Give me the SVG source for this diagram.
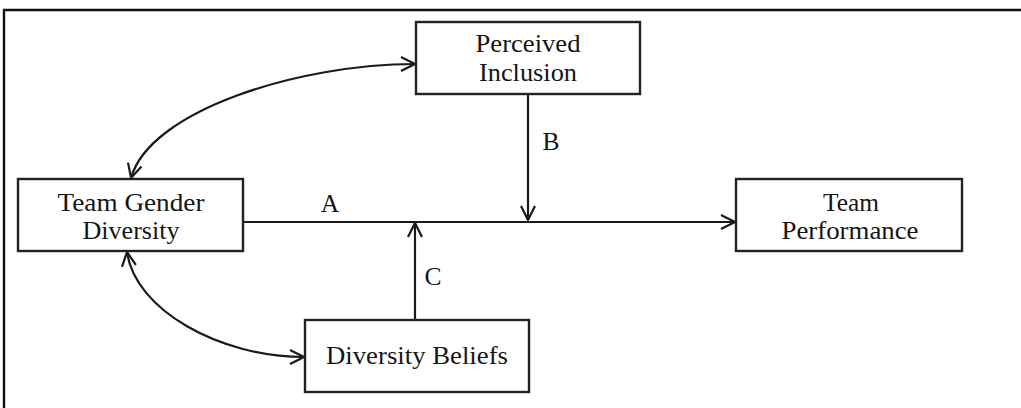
<svg xmlns="http://www.w3.org/2000/svg" width="1021" height="408" viewBox="0 0 1021 408">
  <style>
    .box { fill: #ffffff; stroke: #222222; stroke-width: 2.4; }
    .lbl { font-family: "Liberation Serif", "Times New Roman", serif; font-size: 25.5px; fill: #151515; text-anchor: middle; }
    .edge { fill: none; stroke: #1a1a1a; stroke-width: 2.2; }
    .frame { fill: none; stroke: #111111; stroke-width: 2.4; }
  </style>
  <defs>
    <marker id="vee" viewBox="0 0 16 16" refX="15" refY="8" markerWidth="16" markerHeight="16" markerUnits="userSpaceOnUse" orient="auto-start-reverse">
      <path d="M1,1 L15,8 L1,15" fill="none" stroke="#1a1a1a" stroke-width="2.2"/>
    </marker>
  </defs>

  <rect width="1021" height="408" fill="#ffffff"/>
  <!-- outer frame (top and left edges) -->
  <path class="frame" d="M4,408 L4,10 L1021,10"/>

  <!-- connectors -->
  <g id="connectors">
    <!-- A: Team Gender Diversity to Team Performance -->
    <path class="edge" d="M243,222 L735,222" marker-end="url(#vee)"/>
    <!-- B: Perceived Inclusion moderating the main path -->
    <path class="edge" d="M528,94 L528,220" marker-end="url(#vee)"/>
    <!-- C: Diversity Beliefs moderating the main path -->
    <path class="edge" d="M415,320 L415,223" marker-end="url(#vee)"/>
    <!-- correlation: Team Gender Diversity and Perceived Inclusion -->
    <path class="edge" d="M131,178 C150,110 300,64 415,64" marker-start="url(#vee)" marker-end="url(#vee)"/>
    <!-- correlation: Team Gender Diversity and Diversity Beliefs -->
    <path class="edge" d="M127,252 C135,310 220,357 304,357" marker-start="url(#vee)" marker-end="url(#vee)"/>
    <text class="lbl" x="330" y="212">A</text>
    <text class="lbl" x="551" y="150">B</text>
    <text class="lbl" x="433" y="285">C</text>
  </g>

  <g id="perceived-inclusion">
    <rect class="box" x="416" y="22" width="224" height="72"/>
    <text class="lbl" x="528" y="52" textLength="105" lengthAdjust="spacingAndGlyphs">Perceived</text>
    <text class="lbl" x="528" y="81" textLength="98" lengthAdjust="spacingAndGlyphs">Inclusion</text>
  </g>

  <g id="team-gender-diversity">
    <rect class="box" x="18" y="179" width="225" height="72"/>
    <text class="lbl" x="131" y="211" textLength="147" lengthAdjust="spacingAndGlyphs">Team Gender</text>
    <text class="lbl" x="131" y="239" textLength="97" lengthAdjust="spacingAndGlyphs">Diversity</text>
  </g>

  <g id="team-performance">
    <rect class="box" x="736" y="179" width="226" height="72"/>
    <text class="lbl" x="851" y="211" textLength="56" lengthAdjust="spacingAndGlyphs">Team</text>
    <text class="lbl" x="850" y="239" textLength="137" lengthAdjust="spacingAndGlyphs">Performance</text>
  </g>

  <g id="diversity-beliefs">
    <rect class="box" x="305" y="320" width="224" height="72"/>
    <text class="lbl" x="417" y="364" textLength="182" lengthAdjust="spacingAndGlyphs">Diversity Beliefs</text>
  </g>
</svg>
